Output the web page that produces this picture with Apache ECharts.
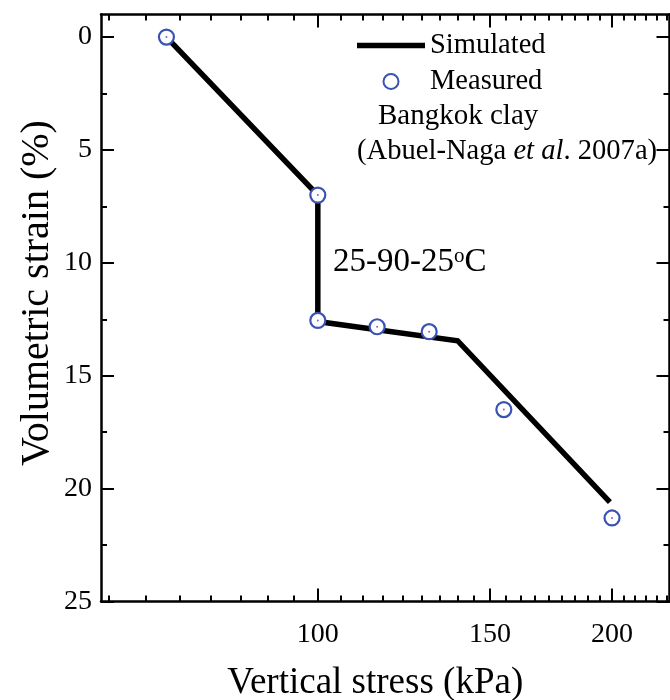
<!DOCTYPE html>
<html>
<head>
<meta charset="utf-8">
<script src="https://cdn.jsdelivr.net/npm/echarts@6/dist/echarts.min.js"></script>
<style>
html,body{margin:0;padding:0;background:#fff;}
#chart{width:670px;height:700px;}
</style>
</head>
<body>
<div id="chart"></div>
<script>
// ---- data (vertical stress in kPa, volumetric strain in %) ----
const stressSimulated = [70, 100, 100, 139, 199];
const strainSimulated = [0, 7.0, 12.6, 13.45, 20.6];
const stressMeasured = [70, 100, 100, 115, 130, 155, 200];
const strainMeasured = [0, 7.0, 12.55, 12.83, 13.05, 16.5, 21.3];

// ---- axis ticks ----
const xTickLabels = [100, 150, 200];
const xRange = [60, 229];
const yTickLabels = [0, 5, 10, 15, 20, 25];
const yMinorTicks = [2.5, 7.5, 12.5, 17.5, 22.5];
const yRange = [-1, 25];

const lg = Math.log10;
// Origin-style minor ticks: 8 between majors (major step 50 kPa)
const xMinorTicks = [];
for (let k = -8; k <= 30; k++) {
  const v = 100 + k * 50 / 9;
  if (k % 9 === 0) continue;
  if (v > xRange[0] && v < xRange[1]) xMinorTicks.push(v);
}

const FONT = '"Liberation Serif", "Times New Roman", serif';
const BLACK = '#000';
const BLUE = '#3a52b3';
const lineW = 2.5;

const gridPos = {left: 101, right: 0.5, top: 14.5, bottom: 98.5, outerBoundsMode: 'none'};

function xAxisDef(grid, pos, ticks, len, withLabels) {
  return {
    type: 'value', gridIndex: grid, position: pos,
    min: lg(xRange[0]), max: lg(xRange[1]),
    axisLine: {show: grid === 0, onZero: false, lineStyle: {color: BLACK, width: lineW}},
    axisTick: {show: true, inside: true, length: len, customValues: ticks.map(lg), lineStyle: {color: BLACK, width: 2}},
    axisLabel: withLabels ? {
      show: true, customValues: xTickLabels.map(lg), margin: 19,
      formatter: v => String(Math.round(Math.pow(10, v))),
      fontFamily: FONT, fontSize: 28, color: BLACK
    } : {show: false},
    splitLine: {show: false},
    name: withLabels ? 'Vertical stress (kPa)' : '',
    nameLocation: 'middle', nameGap: 63,
    nameTextStyle: {fontFamily: FONT, fontSize: 37, color: BLACK, padding: [0, 20, 0, 0]}
  };
}
function yAxisDef(grid, pos, ticks, len, withLabels) {
  return {
    type: 'value', gridIndex: grid, position: pos, inverse: true,
    min: yRange[0], max: yRange[1],
    axisLine: {show: grid === 0, onZero: false, lineStyle: {color: BLACK, width: lineW}},
    axisTick: {show: true, inside: true, length: len, customValues: ticks, lineStyle: {color: BLACK, width: 2}},
    axisLabel: withLabels ? {
      show: true, customValues: yTickLabels, margin: 9,
      fontFamily: FONT, fontSize: 28, color: BLACK
    } : {show: false},
    splitLine: {show: false}
  };
}

const simData = stressSimulated.map((s, i) => [lg(s), strainSimulated[i]]);
const measData = stressMeasured.map((s, i) => [lg(s), strainMeasured[i]]);

const option = {
  animation: false,
  backgroundColor: '#fff',
  grid: [Object.assign({}, gridPos), Object.assign({}, gridPos)],
  xAxis: [
    xAxisDef(0, 'bottom', xTickLabels, 13, true),
    xAxisDef(0, 'top', xTickLabels, 13, false),
    xAxisDef(1, 'bottom', xMinorTicks, 6, false),
    xAxisDef(1, 'top', xMinorTicks, 6, false)
  ],
  yAxis: [
    yAxisDef(0, 'left', yTickLabels, 13, true),
    yAxisDef(0, 'right', yTickLabels, 13, false),
    yAxisDef(1, 'left', yMinorTicks, 6, false),
    yAxisDef(1, 'right', yMinorTicks, 6, false)
  ],
  legend: {
    data: [
      {name: 'Simulated', icon: 'path://M0,0H68V5.5H0Z', itemStyle: {color: BLACK, borderWidth: 0}},
      {name: 'Measured'}
    ],
    orient: 'vertical', left: 352, top: 26,
    itemWidth: 68, itemHeight: 15, itemGap: 7,
    textStyle: {fontFamily: FONT, fontSize: 28.5, color: BLACK},
    selectedMode: false
  },
  series: [
    {
      name: 'Simulated', type: 'line', xAxisIndex: 0, yAxisIndex: 0,
      data: simData, symbol: 'none', showSymbol: false,
      lineStyle: {color: BLACK, width: 5.5, join: 'miter'},
      itemStyle: {color: BLACK}, z: 2
    },
    {
      name: 'Measured', type: 'scatter', xAxisIndex: 0, yAxisIndex: 0,
      data: measData, symbol: 'circle', symbolSize: 15,
      itemStyle: {color: '#fff', borderColor: BLUE, borderWidth: 2.2, opacity: 1}, z: 3
    },
    {
      name: 'MeasuredDot', type: 'scatter', xAxisIndex: 0, yAxisIndex: 0,
      data: measData, symbol: 'circle', symbolSize: 2,
      itemStyle: {color: BLUE}, z: 4, silent: true
    }
  ],
  graphic: [
    {type: 'text', x: 37, y: 293, rotation: Math.PI / 2, style: {
      text: 'Volumetric strain (%)', fontFamily: FONT, fontSize: 40, fill: BLACK,
      align: 'center', verticalAlign: 'middle'
    }},
    {type: 'text', x: 378, y: 116, style: {text: 'Bangkok clay', fontFamily: FONT, fontSize: 29, fill: BLACK, verticalAlign: 'middle'}},
    {type: 'text', x: 357, y: 151, style: {
      text: '(Abuel-Naga {i|et al}. 2007a)', fontFamily: FONT, fontSize: 28.6, fill: BLACK, verticalAlign: 'middle',
      rich: {i: {fontFamily: FONT, fontSize: 28.6, fontStyle: 'italic', fill: BLACK}}
    }},
    {type: 'text', x: 333, y: 262, style: {
      text: '25-90-25{s|o}C', fontFamily: FONT, fontSize: 33, fill: BLACK, verticalAlign: 'middle',
      rich: {s: {fontFamily: FONT, fontSize: 21, fill: BLACK, verticalAlign: 'top'}}
    }}
  ]
};

const chart = echarts.init(document.getElementById('chart'), null, {renderer: 'canvas'});
chart.setOption(option);
</script>
</body>
</html>
